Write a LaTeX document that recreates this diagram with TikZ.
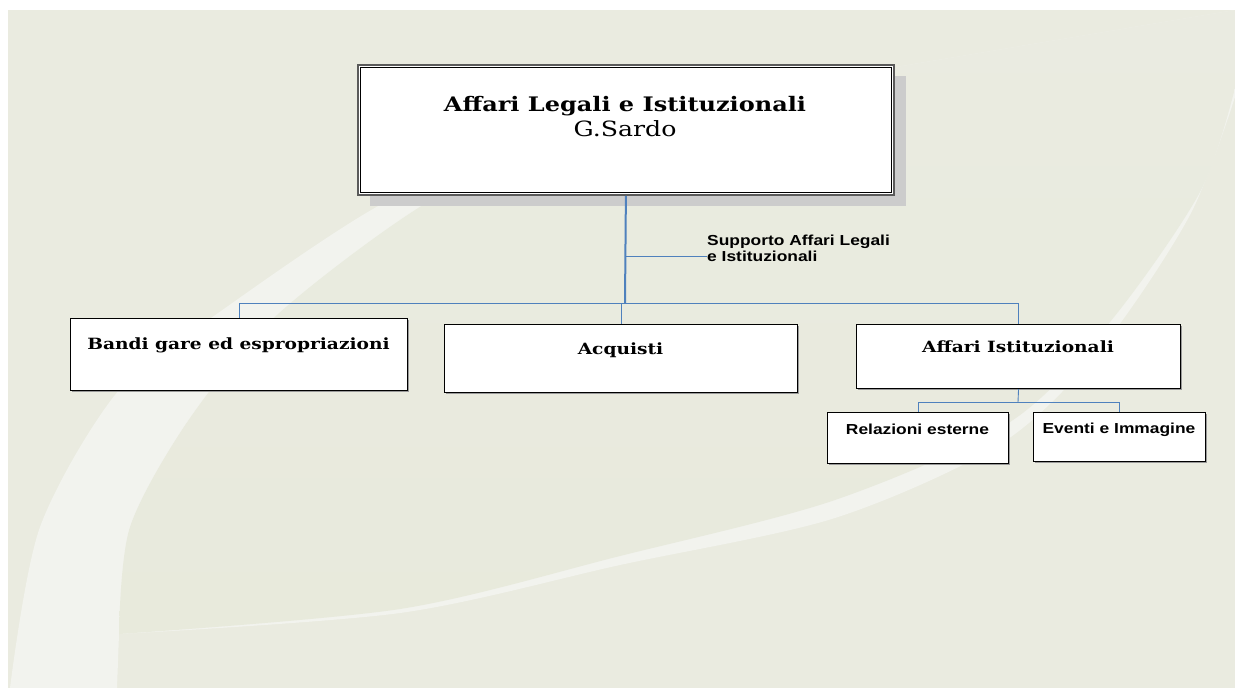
\documentclass[tikz,border=0pt]{standalone}
\usepackage{fontspec}
\newfontfamily\orgserif[FakeStretch=1.2]{DejaVu Serif}
\newfontfamily\orgsans[FakeStretch=1.2]{Liberation Sans}
\usetikzlibrary{shadows}
\definecolor{panel}{HTML}{EAEBE0}
\definecolor{bandlight}{HTML}{F2F3EE}
\definecolor{lenstop}{HTML}{EAEBE1}
\definecolor{lensmid}{HTML}{EFF0E8}
\definecolor{lensbottom}{HTML}{E8EADC}
\definecolor{linkblue}{HTML}{4F81BD}
\definecolor{shadowgray}{HTML}{CCCCCC}
\definecolor{frame}{HTML}{5A5A5A}

\begin{document}
\begin{tikzpicture}[x=1pt,y=-1pt,
  unit/.style={draw=black, line width=1.1pt, fill=white, rectangle, inner sep=0pt,
    anchor=north west,
    drop shadow={shadow xshift=1.3pt, shadow yshift=-1.3pt, fill=black!40, opacity=1}},
  headunit/.style={draw=frame, line width=1.8pt, fill=white, rectangle, inner sep=0pt,
    anchor=north west,
    drop shadow={shadow xshift=12pt, shadow yshift=-11pt, fill=shadowgray, opacity=1}},
  link/.style={draw=linkblue, line width=0.9pt},
  mainlink/.style={draw=linkblue, line width=2pt},
  serifname/.style={font=\orgserif\bfseries\fontsize{15.5}{19}\selectfont, anchor=base, inner sep=0pt},
  sanslabel/.style={font=\orgsans\bfseries\fontsize{14.5}{17}\selectfont, anchor=base, inner sep=0pt},
]
% page and slide panel
\fill[white] (0,0) rectangle (1235,688);
\fill[panel] (8,10) rectangle (1235,688);

% light swoosh: left band plus thin edge along the lower right
\fill[bandlight] plot[smooth] coordinates {(10,688) (40,527) (119,390) (221,311) (380,205) (540,135) (700,100)}
  -- (1235,10) -- (1235,97)
  -- plot[smooth] coordinates {(1235,97) (1190,215) (1102,347) (1002,443) (835,518) (620,565) (400,613) (119,634)}
  -- (117,688) -- cycle;

% inner lens
\shade[top color=lenstop, middle color=lensmid, bottom color=lensbottom]
  plot[smooth] coordinates {(119,634) (130,527) (190,418) (277,315) (423,205) (570,135) (700,100)}
  -- (1235,10) -- (1235,88)
  -- plot[smooth] coordinates {(1235,88) (1200,192) (1110,322) (1010,422) (835,500) (620,556) (400,609) (119,634)}
  -- cycle;

% head unit
\node[headunit, minimum width=536pt, minimum height=130pt] (head) at (357,64) {};
\draw[black, line width=1pt] ([shift={(3pt,-3pt)}]head.north west) rectangle ([shift={(-3pt,3pt)}]head.south east);
\node[font=\orgserif\bfseries\fontsize{20}{24}\selectfont, anchor=base, inner sep=0pt] (headtitle) at (625,111) {Affari Legali e Istituzionali};
\node[font=\orgserif\fontsize{21}{25}\selectfont, anchor=base, inner sep=0pt] (headname) at (625,136) {G.Sardo};

% offices
\node[unit, minimum width=337pt, minimum height=72pt] (bandi) at (70,318) {};
\node[serifname] (banditext) at (238.5,349) {Bandi gare ed espropriazioni};

\node[unit, minimum width=353pt, minimum height=68pt] (acq) at (444,324) {};
\node[serifname] (acqtext) at (620.5,354) {Acquisti};

\node[unit, minimum width=324pt, minimum height=64pt] (affist) at (856,324) {};
\node[serifname] (affisttext) at (1018,352) {Affari Istituzionali};

\node[unit, minimum width=181pt, minimum height=51pt] (rel) at (827,412) {};
\node[sanslabel] (reltext) at (917.5,434) {Relazioni esterne};

\node[unit, minimum width=172pt, minimum height=49pt] (evt) at (1033,412) {};
\node[sanslabel] (evttext) at (1119,433) {Eventi e Immagine};

% staff label
\node[sanslabel, anchor=base west] (supp1) at (707,245) {Supporto Affari Legali};
\node[sanslabel, anchor=base west] (supp2) at (707,261) {e Istituzionali};

% connectors
\coordinate (bus) at (625,303);
\coordinate (suppjoin) at (625,256.5);
\coordinate (subbus) at (1018,402);

\draw[link] (bandi.north) |- (bus);
\draw[link] (affist.north) |- (bus);
\draw[link] (acq.north) -- (acq.north |- bus);
\draw[link] (suppjoin) -- (supp2.west |- suppjoin);
\draw[mainlink] (head.south) -- (bus);

\draw[link] (affist.south) -- (subbus);
\draw[link] (rel.north) |- (subbus);
\draw[link] (evt.north) |- (subbus);
\end{tikzpicture}
\end{document}
